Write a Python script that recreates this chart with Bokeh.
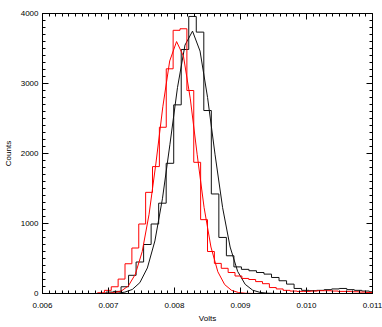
import numpy as np
from bokeh.plotting import figure
from bokeh.models import Range1d, LinearAxis, FixedTicker, PrintfTickFormatter
from bokeh.embed import file_html
from bokeh.resources import INLINE

# ---------------- data ----------------
# red histogram: 48 bins between 0.006 and 0.011 V
red_bin_start = 0.006
red_bin_width = 0.005 / 48
red_counts = [0, 0, 0, 0, 0, 0, 0, 0, 10, 45, 96, 206, 425, 650, 993, 1445,
              1813, 2375, 3210, 3760, 3782, 2900, 1874, 1055, 600, 430, 360, 300,
              250, 215, 200, 170, 140, 85, 65, 45, 35, 30, 30, 35, 40, 40, 35, 30,
              30, 25, 20, 15]
# red gaussian fit, sampled at red bin centres
red_fit = [0, 0, 0, 0, 0, 0, 0, 0, 1, 3, 12, 38, 110, 275, 598, 1132, 1863,
           2667, 3322, 3599, 3391, 2780, 1982, 1230, 664, 311, 127, 45, 14, 4, 1,
           0, 0, 0, 0, 0, 0, 0, 0, 0, 0, 0, 0, 0, 0, 0, 0, 0]

# black histogram
black_bin_start = 0.006848
black_bin_width = 0.000114
black_counts = [0, 20, 30, 96, 260, 450, 700, 993, 1290, 1860, 2695, 3486, 3958,
                3734, 2614, 1422, 801, 539, 380, 345, 325, 300, 277, 229, 182, 134,
                72, 45, 40, 45, 55, 65, 72, 55, 45, 35, 25]
# black gaussian fit, sampled at black bin centres
black_fit = [0, 1, 5, 19, 58, 155, 365, 751, 1353, 2132, 2941, 3549, 3748, 3463,
             2800, 1981, 1226, 664, 315, 131, 47, 15, 4, 1, 0, 0, 0, 0, 0, 0, 0,
             0, 0, 0, 0, 0, 0]

x_major = [0.006, 0.007, 0.008, 0.009, 0.010, 0.011]
x_minor = [round(0.006 + 0.0001 * i, 5) for i in range(51)]
y_major = [0, 1000, 2000, 3000, 4000]
y_minor = [100 * i for i in range(41)]

x_label = "Volts"
y_label = "Counts"


def step_xy(start, width, counts):
    edges = [start + width * i for i in range(len(counts) + 1)]
    ys = list(counts) + [counts[-1]]
    return edges, ys


def centres(start, width, n):
    return [start + width * (i + 0.5) for i in range(n)]


FONT = "Liberation Sans"
X0, X1, Y0, Y1 = 0.006, 0.011, 0, 4000

p = figure(width=382, height=327,
           x_range=Range1d(X0, X1), y_range=Range1d(Y0, Y1),
           output_backend="svg", toolbar_location=None,
           x_axis_location=None, y_axis_location=None,
           min_border_left=37, min_border_right=10,
           min_border_top=13, min_border_bottom=34)
p.grid.visible = False
p.outline_line_color = None
p.background_fill_color = "white"
p.border_fill_color = "white"


def make_axis(ticks, minor, fmt=None):
    ax = LinearAxis(ticker=FixedTicker(ticks=ticks, minor_ticks=minor))
    if fmt is not None:
        ax.formatter = fmt
    ax.axis_line_color = "black"
    ax.major_tick_line_color = "black"
    ax.minor_tick_line_color = "black"
    ax.major_tick_in = 6
    ax.major_tick_out = 0
    ax.minor_tick_in = 3
    ax.minor_tick_out = 0
    ax.major_label_text_font = FONT
    ax.major_label_text_color = "black"
    ax.major_label_text_font_size = "8px"
    ax.axis_label_text_font = FONT
    ax.axis_label_text_font_size = "8px"
    ax.axis_label_text_font_style = "normal"
    ax.axis_label_text_color = "black"
    return ax


bottom = make_axis(x_major, x_minor, PrintfTickFormatter(format="%.3f"))
bottom.major_label_standoff = 9
bottom.axis_label = x_label
bottom.axis_label_standoff = 3
left = make_axis(y_major, y_minor, PrintfTickFormatter(format="%d"))
left.major_label_standoff = 4
left.axis_label = y_label
left.axis_label_standoff = 5

# top and right: tick marks only (no labels)
top = make_axis([], x_minor)
right = make_axis([], y_minor)
p.add_layout(bottom, "below")
p.add_layout(top, "above")
p.add_layout(left, "left")
p.add_layout(right, "right")
p.ray(x=x_major, y=[Y1] * len(x_major), length=6, angle=-np.pi / 2,
      length_units="screen", line_color="black", line_width=1)
p.ray(x=[X1] * len(y_major), y=y_major, length=6, angle=np.pi,
      length_units="screen", line_color="black", line_width=1)

# black histogram + fit
bx, by = step_xy(black_bin_start, black_bin_width, black_counts)
p.step(bx, by, mode="after", line_color="#111111", line_width=1)
p.line(centres(black_bin_start, black_bin_width, len(black_fit)), black_fit,
       line_color="#111111", line_width=1)

# red histogram + fit
rx, ry = step_xy(red_bin_start, red_bin_width, red_counts)
p.step(rx, ry, mode="after", line_color="#ff0000", line_width=1)
p.line(centres(red_bin_start, red_bin_width, len(red_fit)), red_fit,
       line_color="#ff0000", line_width=1)

open("out.html", "w").write(file_html(p, INLINE))
